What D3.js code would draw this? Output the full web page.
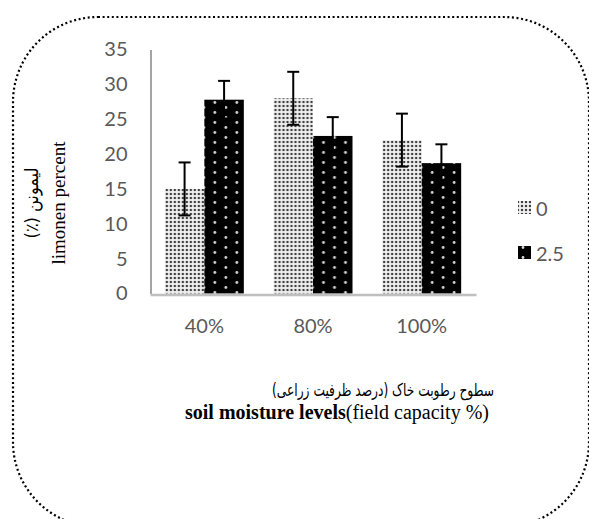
<!DOCTYPE html>
<html><head><meta charset="utf-8">
<script src="https://cdn.jsdelivr.net/npm/d3@7"></script>
<style>body{margin:0;background:#fff}svg{display:block}</style>
</head><body>
<script>
const categories = ["40%", "80%", "100%"];
const seriesNames = ["0", "2.5"];
const values0 = [15.0, 28.0, 22.0];
const values25 = [27.8, 22.6, 18.7];
const err0 = [3.8, 3.8, 3.8];
const err25 = [2.7, 2.7, 2.7];
const yTicks = [0, 5, 10, 15, 20, 25, 30, 35];
const yTitleFa = "لیمونن (٪)";
const yTitleEn = "limonen percent";
const xTitleFa = "سطوح رطوبت خاک (درصد ظرفیت زراعی)";
const xTitleEnBold = "soil moisture levels";
const xTitleEnRest = "(field capacity %)";

const W = 589, H = 519;
const svg = d3.select("body").append("svg").attr("width", W).attr("height", H);
const defs = svg.append("defs");

const pL = defs.append("pattern").attr("id", "pLight").attr("patternUnits", "userSpaceOnUse")
  .attr("width", 4).attr("height", 4);
pL.append("rect").attr("width", 4).attr("height", 4).attr("fill", "#fff");
pL.append("rect").attr("x", 0.5).attr("y", 0.5).attr("width", 3).attr("height", 3).attr("fill", "#c4c4c4");
pL.append("rect").attr("x", 1).attr("y", 1).attr("width", 2).attr("height", 2).attr("fill", "#404040");

const pD = defs.append("pattern").attr("id", "pDark").attr("patternUnits", "userSpaceOnUse")
  .attr("width", 22).attr("height", 10).attr("x", 1).attr("y", 0);
pD.append("rect").attr("width", 22).attr("height", 10).attr("fill", "#000");
pD.append("circle").attr("cx", 5).attr("cy", 2.5).attr("r", 1.4).attr("fill", "#d8d8d8");
pD.append("circle").attr("cx", 16).attr("cy", 7.5).attr("r", 1.4).attr("fill", "#d8d8d8");

const fills = ["url(#pLight)", "url(#pDark)"];

svg.append("rect").attr("x", 13).attr("y", 17).attr("width", 576).attr("height", 510)
  .attr("rx", 85).attr("ry", 85).attr("fill", "none").attr("stroke", "#000")
  .attr("stroke-width", 2.2).attr("stroke-dasharray", "2 2.6");

const x0 = d3.scaleBand().domain(categories).range([150, 476]).paddingInner(0.273).paddingOuter(0.1365);
const x1 = d3.scaleBand().domain(seriesNames).range([0, x0.bandwidth()]);
const y = d3.scaleLinear().domain([0, 35]).range([293.5, 49.5]);

const data = categories.map((c, i) => ({
  cat: c,
  items: [
    {s: seriesNames[0], v: values0[i], e: err0[i], k: 0},
    {s: seriesNames[1], v: values25[i], e: err25[i], k: 1}
  ]
}));

const yAxis = svg.append("g").attr("transform", "translate(150.5,0)")
  .call(d3.axisLeft(y).tickValues(yTicks).tickSize(0).tickPadding(23));
yAxis.select(".domain").attr("stroke", "#868686").attr("stroke-width", 1.5);
yAxis.selectAll("text").attr("font-family", "Lato, 'Open Sans', sans-serif").attr("font-size", 20).attr("fill", "#595959");

const g = svg.append("g");
const groups = g.selectAll("g.grp").data(data).join("g").attr("class", "grp")
  .attr("transform", d => `translate(${x0(d.cat)},0)`);
groups.selectAll("rect").data(d => d.items).join("rect")
  .attr("x", d => x1(d.s)).attr("width", x1.bandwidth())
  .attr("y", d => y(d.v)).attr("height", d => y(0) - y(d.v))
  .attr("fill", d => fills[d.k]);

groups.selectAll("g.err").data(d => d.items).join("g").attr("class", "err")
  .each(function(d) {
    const cx = x1(d.s) + x1.bandwidth() / 2;
    const s = d3.select(this);
    s.append("line").attr("x1", cx).attr("x2", cx).attr("y1", y(d.v + d.e)).attr("y2", y(d.v - d.e))
      .attr("stroke", "#000").attr("stroke-width", 2);
    [d.v + d.e, d.v - d.e].forEach(t => {
      s.append("line").attr("x1", cx - 6).attr("x2", cx + 6).attr("y1", y(t)).attr("y2", y(t))
        .attr("stroke", "#000").attr("stroke-width", 2);
    });
  });

const xAxis = svg.append("g").attr("transform", "translate(0,294.5)")
  .call(d3.axisBottom(x0).tickSize(0).tickPadding(24));
xAxis.select(".domain").attr("stroke", "#bfbfbf").attr("stroke-width", 2.5);
xAxis.selectAll("text").attr("font-family", "Lato, 'Open Sans', sans-serif").attr("font-size", 20).attr("fill", "#595959");

const leg = svg.append("g");
seriesNames.forEach((s, i) => {
  const ly = 201 + i * 45;
  leg.append("rect").attr("x", 518).attr("y", ly).attr("width", 13).attr("height", 13).attr("fill", fills[i]);
  leg.append("text").attr("x", 536).attr("y", ly + 14.5).text(s)
    .attr("font-family", "Lato, 'Open Sans', sans-serif").attr("font-size", 20).attr("fill", "#595959");
});

svg.append("text").attr("transform", "translate(65,203) rotate(-90)").attr("text-anchor", "middle")
  .attr("font-family", "'Liberation Serif', 'Times New Roman', serif").attr("font-size", 19).attr("fill", "#000")
  .text(yTitleEn);
svg.append("text").attr("transform", "translate(38,203) rotate(-90) scale(0.9,1)").attr("text-anchor", "middle")
  .attr("direction", "rtl")
  .attr("font-family", "'DejaVu Sans', sans-serif").attr("font-size", 18).attr("fill", "#000")
  .text(yTitleFa);

svg.append("text").attr("transform", "translate(383,396) scale(0.72,1)").attr("text-anchor", "middle").attr("direction", "rtl")
  .attr("font-family", "'DejaVu Sans', sans-serif").attr("font-size", 17).attr("fill", "#000")
  .text(xTitleFa);
const t2 = svg.append("text").attr("x", 185).attr("y", 419).attr("text-anchor", "start")
  .attr("font-family", "'Liberation Serif', 'Times New Roman', serif").attr("font-size", 20).attr("fill", "#000");
t2.append("tspan").attr("font-weight", "bold").text(xTitleEnBold);
t2.append("tspan").text(xTitleEnRest);
</script>
</body></html>
